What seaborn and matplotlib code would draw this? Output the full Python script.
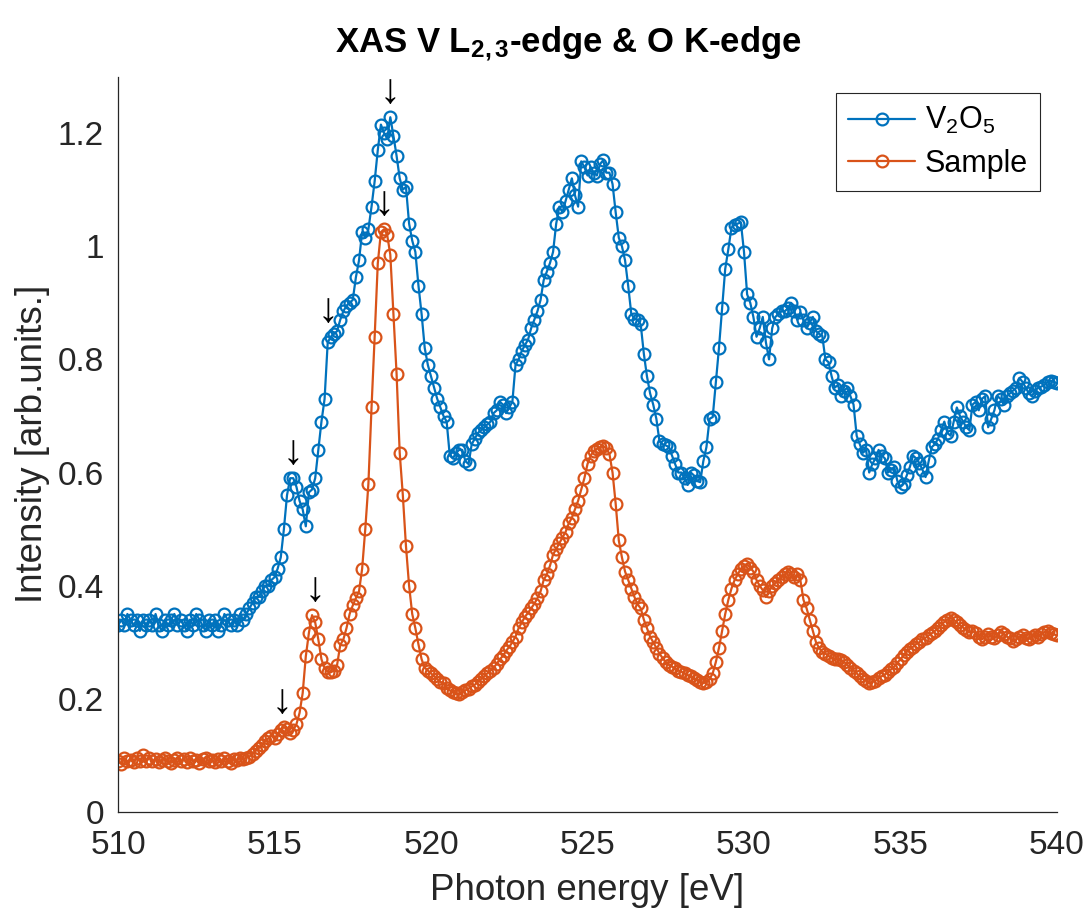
import numpy as np
import pandas as pd
import matplotlib
matplotlib.use("Agg")
import matplotlib.pyplot as plt
import seaborn as sns

# ---------------- data ----------------
energy_start = 510.0
energy_step = 0.1
series_names = ["V$_2$O$_5$", "Sample"]

v2o5 = [
    # 510
    0.33, 0.34, 0.33, 0.35, 0.34, 0.33, 0.34, 0.32, 0.34, 0.33,
    # 511
    0.34, 0.33, 0.35, 0.33, 0.32, 0.34, 0.33, 0.34, 0.35, 0.33,
    # 512
    0.34, 0.33, 0.32, 0.34, 0.33, 0.35, 0.34, 0.33, 0.32, 0.34,
    # 513
    0.33, 0.34, 0.32, 0.33, 0.35, 0.34, 0.33, 0.34, 0.33, 0.35,
    # 514
    0.34, 0.35, 0.36, 0.37, 0.38, 0.38, 0.39, 0.40, 0.40, 0.41,
    # 515
    0.415, 0.43, 0.45, 0.50, 0.56, 0.59, 0.59, 0.575, 0.55, 0.535,
    # 516
    0.505, 0.565, 0.57, 0.59, 0.64, 0.69, 0.73, 0.83, 0.84, 0.845,
    # 517
    0.85, 0.87, 0.885, 0.895, 0.90, 0.905, 0.945, 0.975, 1.025, 1.015,
    # 518
    1.03, 1.07, 1.115, 1.17, 1.215, 1.20, 1.19, 1.228, 1.195, 1.16,
    # 519
    1.12, 1.10, 1.105, 1.04, 1.01, 0.99, 0.93, 0.88, 0.82, 0.79,
    # 520
    0.77, 0.75, 0.73, 0.715, 0.70, 0.69, 0.63, 0.625, 0.635, 0.64,
    # 521
    0.64, 0.62, 0.615, 0.65, 0.66, 0.67, 0.675, 0.68, 0.685, 0.69,
    # 522
    0.705, 0.71, 0.725, 0.72, 0.705, 0.715, 0.725, 0.79, 0.80, 0.815,
    # 523
    0.825, 0.835, 0.855, 0.87, 0.885, 0.905, 0.94, 0.955, 0.97, 0.99,
    # 524
    1.04, 1.07, 1.06, 1.08, 1.10, 1.12, 1.09, 1.07, 1.15, 1.14,
    # 525
    1.125, 1.14, 1.13, 1.125, 1.145, 1.152, 1.13, 1.13, 1.11, 1.06,
    # 526
    1.015, 1.0, 0.975, 0.93, 0.88, 0.872, 0.87, 0.862, 0.81, 0.77,
    # 527
    0.74, 0.72, 0.695, 0.655, 0.65, 0.648, 0.645, 0.63, 0.615, 0.60,
    # 528
    0.60, 0.59, 0.578, 0.60, 0.595, 0.585, 0.583, 0.62, 0.645, 0.695,
    # 529
    0.698, 0.76, 0.82, 0.89, 0.96, 0.995, 1.033, 1.038, 1.04, 1.042,
    # 530
    0.99, 0.915, 0.90, 0.875, 0.84, 0.855, 0.875, 0.83, 0.80, 0.855,
    # 531
    0.875, 0.88, 0.885, 0.885, 0.89, 0.90, 0.885, 0.87, 0.883, 0.87,
    # 532
    0.855, 0.865, 0.875, 0.85, 0.845, 0.842, 0.80, 0.795, 0.77, 0.75,
    # 533
    0.755, 0.735, 0.745, 0.75, 0.735, 0.72, 0.665, 0.65, 0.635, 0.64,
    # 534
    0.60, 0.615, 0.625, 0.64, 0.63, 0.625, 0.60, 0.605, 0.61, 0.585,
    # 535
    0.575, 0.58, 0.595, 0.61, 0.63, 0.625, 0.617, 0.605, 0.592, 0.62,
    # 536
    0.645, 0.65, 0.66, 0.675, 0.69, 0.67, 0.665, 0.69, 0.715, 0.70,
    # 537
    0.69, 0.68, 0.675, 0.72, 0.725, 0.71, 0.73, 0.735, 0.68, 0.695,
    # 538
    0.71, 0.735, 0.73, 0.72, 0.735, 0.74, 0.745, 0.75, 0.767, 0.76,
    # 539
    0.75, 0.74, 0.735, 0.745, 0.75, 0.752, 0.755, 0.76, 0.762, 0.76,
    # 540
    0.758,
]

sample = [
    # 510
    0.09, 0.085, 0.095, 0.09, 0.092, 0.088, 0.095, 0.09, 0.10, 0.091,
    # 511
    0.095, 0.09, 0.093, 0.088, 0.092, 0.095, 0.09, 0.087, 0.092, 0.095,
    # 512
    0.09, 0.093, 0.088, 0.095, 0.09, 0.092, 0.086, 0.093, 0.096, 0.09,
    # 513
    0.092, 0.088, 0.094, 0.09, 0.095, 0.091, 0.087, 0.094, 0.092, 0.095,
    # 514
    0.093, 0.096, 0.098, 0.103, 0.108, 0.113, 0.118, 0.125, 0.13, 0.135,
    # 515
    0.13, 0.138, 0.145, 0.15, 0.146, 0.14, 0.145, 0.155, 0.175, 0.21,
    # 516
    0.275, 0.317, 0.348, 0.335, 0.305, 0.27, 0.254, 0.248, 0.247, 0.25,
    # 517
    0.26, 0.295, 0.305, 0.325, 0.35, 0.365, 0.378, 0.39, 0.43, 0.50,
    # 518
    0.58, 0.715, 0.84, 0.97, 1.025, 1.03, 1.02, 0.985, 0.88, 0.775,
    # 519
    0.635, 0.56, 0.47, 0.40, 0.35, 0.325, 0.296, 0.27, 0.255, 0.25,
    # 520
    0.245, 0.24, 0.235, 0.23, 0.228, 0.22, 0.215, 0.212, 0.21, 0.208,
    # 521
    0.212, 0.215, 0.218, 0.222, 0.225, 0.23, 0.235, 0.24, 0.245, 0.25,
    # 522
    0.255, 0.262, 0.27, 0.276, 0.285, 0.292, 0.30, 0.31, 0.325, 0.335,
    # 523
    0.345, 0.352, 0.36, 0.368, 0.378, 0.39, 0.41, 0.42, 0.435, 0.455,
    # 524
    0.465, 0.475, 0.485, 0.495, 0.51, 0.52, 0.535, 0.55, 0.57, 0.59,
    # 525
    0.615, 0.63, 0.638, 0.642, 0.645, 0.647, 0.643, 0.633, 0.60, 0.545,
    # 526
    0.48, 0.45, 0.425, 0.41, 0.395, 0.38, 0.367, 0.36, 0.34, 0.325,
    # 527
    0.31, 0.30, 0.29, 0.28, 0.272, 0.265, 0.26, 0.257, 0.254, 0.25,
    # 528
    0.248, 0.245, 0.242, 0.24, 0.236, 0.233, 0.23, 0.228, 0.229, 0.235,
    # 529
    0.245, 0.265, 0.29, 0.32, 0.35, 0.375, 0.395, 0.41, 0.42, 0.43,
    # 530
    0.435, 0.438, 0.432, 0.425, 0.41, 0.40, 0.392, 0.38, 0.39, 0.40,
    # 531
    0.405, 0.41, 0.415, 0.42, 0.425, 0.42, 0.415, 0.42, 0.41, 0.375,
    # 532
    0.36, 0.34, 0.32, 0.30, 0.29, 0.283, 0.28, 0.276, 0.272, 0.27,
    # 533
    0.27, 0.268, 0.265, 0.26, 0.255, 0.25, 0.245, 0.24, 0.235, 0.232,
    # 534
    0.228, 0.23, 0.232, 0.236, 0.24, 0.243, 0.247, 0.252, 0.257, 0.264,
    # 535
    0.27, 0.277, 0.283, 0.288, 0.292, 0.297, 0.30, 0.305, 0.308, 0.312,
    # 536
    0.316, 0.32, 0.325, 0.33, 0.336, 0.34, 0.343, 0.34, 0.335, 0.33,
    # 537
    0.326, 0.322, 0.318, 0.32, 0.316, 0.31, 0.305, 0.31, 0.315, 0.31,
    # 538
    0.307, 0.312, 0.318, 0.314, 0.31, 0.307, 0.302, 0.305, 0.31, 0.312,
    # 539
    0.308, 0.306, 0.31, 0.313, 0.31, 0.315, 0.318, 0.32, 0.316, 0.314,
    # 540
    0.312,
]

# peak markers (energies at which an arrow is drawn above each curve)
v2o5_arrow_energies = [515.6, 516.7, 518.7]
sample_arrow_energies = [515.25, 516.3, 518.5]

x_ticks = [510, 515, 520, 525, 530, 535, 540]
y_ticks = [0, 0.2, 0.4, 0.6, 0.8, 1.0, 1.2]
y_tick_labels = ["0", "0.2", "0.4", "0.6", "0.8", "1", "1.2"]

# ---------------- style ----------------
sns.set_theme(style="white")
plt.rcParams["font.family"] = ["Liberation Sans", "DejaVu Sans"]
plt.rcParams["mathtext.fontset"] = "custom"
plt.rcParams["mathtext.rm"] = "Liberation Sans"
plt.rcParams["mathtext.it"] = "Liberation Sans:italic"
plt.rcParams["mathtext.bf"] = "Liberation Sans:bold"
plt.rcParams["mathtext.default"] = "regular"

blue = "#0072BD"
orange = "#D95319"
axis_col = "#262626"

energy = np.round(energy_start + energy_step * np.arange(len(v2o5)), 1)
df = pd.DataFrame({
    "energy": np.concatenate([energy, energy]),
    "intensity": np.concatenate([v2o5, sample]),
    "series": [series_names[0]] * len(v2o5) + [series_names[1]] * len(sample),
})

W, H = 1084, 909
fig = plt.figure(figsize=(W / 100, H / 100), dpi=100)
ax = fig.add_axes([118 / W, 1 - 812 / H, (1057 - 118) / W, (812 - 76.5) / H])

for name, col in zip(series_names, [blue, orange]):
    sub = df[df["series"] == name]
    sns.lineplot(data=sub, x="energy", y="intensity", ax=ax, color=col,
                 lw=1.6, marker="o", ms=8.5, markerfacecolor="none",
                 markeredgecolor=col, markeredgewidth=1.6, label=name,
                 estimator=None, sort=False)

# arrows above the marked peaks
def arrow_y(vals, e):
    arr = np.asarray(vals)
    m = np.abs(energy - e) <= 0.11
    return arr[m].max() + 0.045

for vals, energies in [(v2o5, v2o5_arrow_energies), (sample, sample_arrow_energies)]:
    for e in energies:
        ax.text(e, arrow_y(vals, e), "\u2193", ha="center", va="center",
                fontsize=30, color="black")

ax.set_xlim(510, 540)
ax.set_ylim(0, 1.3)
ax.set_xticks(x_ticks)
ax.set_xticklabels([str(t) for t in x_ticks])
ax.set_yticks(y_ticks)
ax.set_yticklabels(y_tick_labels)

for s in ["top", "right"]:
    ax.spines[s].set_visible(False)
for s in ["left", "bottom"]:
    ax.spines[s].set_color(axis_col)
    ax.spines[s].set_linewidth(0.9)

ax.tick_params(axis="both", direction="in", length=8, width=0.9,
               colors=axis_col, labelsize=24, labelcolor=axis_col)
ax.tick_params(axis="x", pad=13)
ax.tick_params(axis="y", pad=10)
ax.grid(False)

ax.set_xlabel("Photon energy [eV]", fontsize=26.5, color=axis_col)
ax.set_ylabel("Intensity [arb.units.]", fontsize=26.5, color=axis_col)
ax.xaxis.label.set_va("center")
ax.yaxis.label.set_va("center")
ax.xaxis.set_label_coords(0.5, (812 - 890) / 735.5)
ax.yaxis.set_label_coords((33 - 118) / 939, 0.5)

ax.set_title(r"XAS V L$_{\mathbf{2,3}}$-edge & O K-edge", fontsize=25,
             fontweight="bold", color="black", pad=18, x=0.48)

leg = ax.legend(loc="upper right", bbox_to_anchor=((1040 - 118) / 939, (812 - 93) / 735.5),
                borderaxespad=0, fontsize=22, frameon=True, fancybox=False,
                framealpha=1, edgecolor=axis_col, handlelength=2.2,
                handletextpad=0.3, borderpad=0.4, labelspacing=0.4)
leg.get_frame().set_linewidth(0.8)
for t in leg.get_texts():
    t.set_color("black")

fig.savefig("out.png", dpi=100, facecolor="white")
